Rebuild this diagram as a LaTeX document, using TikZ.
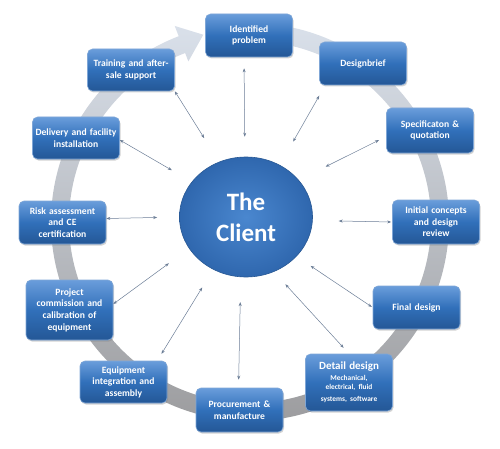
\documentclass[tikz,border=0pt]{standalone}
\usepackage{fontspec}
\setmainfont{Carlito}
\usetikzlibrary{arrows.meta}
\usetikzlibrary{shapes.geometric}
\usetikzlibrary{shadows}
\definecolor{boxtop}{HTML}{6A9DDB}
\definecolor{boxmid}{HTML}{3170BA}
\definecolor{boxbot}{HTML}{245796}
\definecolor{boxline}{HTML}{7FA6D6}
\definecolor{hubin}{HTML}{4A87CF}
\definecolor{hubout}{HTML}{2F67AE}
\definecolor{ringtop}{HTML}{D9E0EA}
\definecolor{ringbot}{HTML}{9A9A9C}
\definecolor{linkcol}{HTML}{6B7D96}
\tikzset{>={Stealth[length=4pt,width=3pt]}}

\begin{document}
\begin{tikzpicture}[x=1pt,y=1pt,
	box/.style={rectangle, rounded corners=5pt, draw=boxline, line width=0.6pt,
		top color=boxtop, bottom color=boxbot, middle color=boxmid,
		drop shadow={shadow xshift=1pt, shadow yshift=-1.5pt, opacity=0.35},
		text=white, align=center, minimum width=87pt, minimum height=43pt,
		inner sep=1pt, text width=85pt, font=\fontsize{9.6}{11.6}\selectfont\bfseries},
	hub/.style={ellipse, minimum width=133pt, minimum height=120pt, inner sep=0pt,
		inner color=hubin, outer color=hubout, draw=hubout!85!black, line width=0.6pt,
		text=white, align=center, font=\fontsize{25}{31}\selectfont\bfseries},
	link/.style={<->, linkcol, line width=0.5pt}]
			\useasboundingbox (0,0) rectangle (500,448);
			
			% circular arrow behind the boxes
			\begin{scope}[shift={(250,226)}]
				\shade[top color=ringtop, bottom color=ringbot]
					(80:199) arc[start angle=80, end angle=-249, radius=199]
					-- (-249:210) -- (-256:193) -- (-249:172) -- (-249:181)
					arc[start angle=-249, end angle=80, radius=181] -- cycle;
			\end{scope}
			
			\node[hub] (client) at (246,231) {The\\Client};
			
			\node[box] (idprob) at (249,412.5) {Identified\\problem};
			\node[box] (brief) at (363,384.5) {Designbrief};
			\node[box, minimum height=45pt] (spec) at (430,317.5) {Specificaton \&\\quotation};
			\node[box, minimum width=86pt, minimum height=44pt] (concept) at (436,226) {Initial concepts\\and design\\review};
			\node[box] (final) at (416.5,140.5) {Final design};
			\node[box, minimum height=57pt] (detail) at (349,65.5) {{\fontsize{11}{13}\selectfont Detail design}\\[1pt]
				{\fontsize{7.4}{9.5}\selectfont Mechanical,\\electrical, fluid\\systems, software}};
			\node[box, minimum height=44pt] (procure) at (239.5,38) {Procurement \&\\manufacture};
			\node[box, minimum height=42pt] (integr) at (123.5,66) {Equipment\\integration and\\assembly};
			\node[box, minimum height=60pt] (commis) at (69.5,138) {Project\\commission and\\calibration of\\equipment};
			\node[box] (risk) at (62.5,225.5) {Risk assessment\\and CE\\certification};
			\node[box, minimum width=86pt, minimum height=42pt] (deliv) at (76,310) {Delivery and facility\\installation};
			\node[box, minimum width=86pt, minimum height=42pt] (train) at (131,378) {Training and after-\\sale support};
			
			% links to the client
			\draw[link, shorten <=20pt, shorten >=11pt] (client.91) -- ([xshift=-5pt]idprob.south);
			\draw[link, shorten <=28pt] (client.116) -- (train.south east);
			\draw[link, shorten <=23pt] (client.147) -- ([yshift=-2pt]deliv.east);
			\draw[link, shorten <=22pt] (client.180) -- ([yshift=4pt]risk.east);
			\draw[link, shorten <=25pt] (client.209) -- ([yshift=6pt]commis.east);
			\draw[link, shorten <=21pt, shorten >=8pt] (client.238) -- ([xshift=-10pt]integr.north east);
			\draw[link, shorten <=25pt, shorten >=8pt] (client.265) -- ([xshift=-1pt]procure.north);
			\draw[link, shorten <=17pt, shorten >=8pt] (client.297) -- (detail.north);
			\draw[link, shorten <=17pt, shorten >=1pt] (client.322) -- (final.west);
			\draw[link, shorten <=26pt, shorten >=1pt] (client.357) -- (concept.west);
			\draw[link, shorten <=30pt, shorten >=8pt] (client.35) -- ([yshift=-6pt]spec.west);
			\draw[link, shorten <=27pt, shorten >=12pt] (client.57) -- ([xshift=6pt]brief.south west);
			
		\end{tikzpicture}
\end{document}
